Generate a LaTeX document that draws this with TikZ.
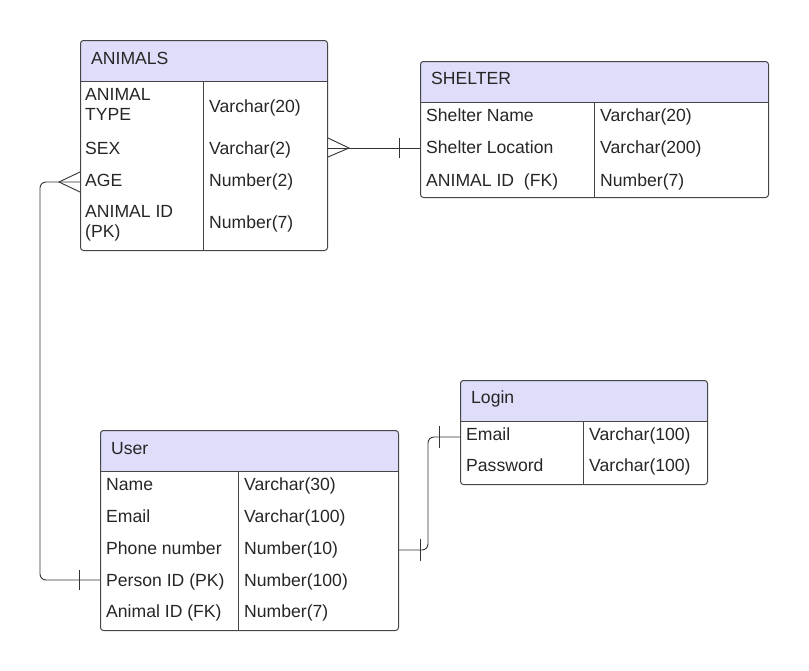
\documentclass[tikz,border=0pt]{standalone}
\usepackage{fontspec}
\setmainfont{Liberation Sans}
\definecolor{hdr}{RGB}{222,222,250}
\definecolor{edge}{RGB}{70,70,70}
\tikzset{
  x=1pt, y=-1pt,
  tbl/.style={draw=edge, line width=1pt, rounded corners=3pt, rectangle, inner sep=0pt, anchor=north west},
  cell/.style={anchor=base west, inner sep=0pt, font=\fontsize{17.6}{20}\selectfont, text=black!85, align=left},
  rel/.style={draw=black!80, line width=0.9pt},
}
\begin{document}
\begin{tikzpicture}
\useasboundingbox (0,0) rectangle (809,670);

% ---------- ANIMALS ----------
\fill[hdr] (80,81) [rounded corners=3pt] -- (80,40) -- (327,40) [sharp corners] -- (327,81) -- cycle;
\node[tbl, minimum width=247pt, minimum height=210pt] (animals) at (80,40) {};
\draw[edge, line width=1pt] (80,81) -- (327,81);
\draw[edge, line width=1pt] (203,81) -- (203,250);
\node[cell] (animalsT) at (91,64) {ANIMALS};
\node[cell] (aType) at (85,120) {ANIMAL\\TYPE};
\node[cell] (aTypeT) at (209,112) {Varchar(20)};
\node[cell] (aSex) at (85,154) {SEX};
\node[cell] (aSexT) at (209,154) {Varchar(2)};
\node[cell] (aAge) at (85,186) {AGE};
\node[cell] (aAgeT) at (209,186) {Number(2)};
\node[cell] (aId) at (85,237) {ANIMAL ID\\(PK)};
\node[cell] (aIdT) at (209,228) {Number(7)};

% ---------- SHELTER ----------
\fill[hdr] (420,102) [rounded corners=3pt] -- (420,61) -- (768,61) [sharp corners] -- (768,102) -- cycle;
\node[tbl, minimum width=348pt, minimum height=136pt] (shelter) at (420,61) {};
\draw[edge, line width=1pt] (420,102) -- (768,102);
\draw[edge, line width=1pt] (594,102) -- (594,197);
\node[cell] (shelterT) at (431,84) {SHELTER};
\node[cell] (sName) at (426,121) {Shelter Name};
\node[cell] (sNameT) at (600,121) {Varchar(20)};
\node[cell] (sLoc) at (426,153) {Shelter Location};
\node[cell] (sLocT) at (600,153) {Varchar(200)};
\node[cell] (sAid) at (426,186) {ANIMAL ID\ \ (FK)};
\node[cell] (sAidT) at (600,186) {Number(7)};

% ---------- Login ----------
\fill[hdr] (460,421) [rounded corners=3pt] -- (460,380) -- (707,380) [sharp corners] -- (707,421) -- cycle;
\node[tbl, minimum width=247pt, minimum height=104pt] (login) at (460,380) {};
\draw[edge, line width=1pt] (460,421) -- (707,421);
\draw[edge, line width=1pt] (583,421) -- (583,484);
\node[cell] (loginT) at (471,403) {Login};
\node[cell] (lEmail) at (466,440) {Email};
\node[cell] (lEmailT) at (589,440) {Varchar(100)};
\node[cell] (lPass) at (466,471) {Password};
\node[cell] (lPassT) at (589,471) {Varchar(100)};

% ---------- User ----------
\fill[hdr] (100,471) [rounded corners=3pt] -- (100,430) -- (398,430) [sharp corners] -- (398,471) -- cycle;
\node[tbl, minimum width=298pt, minimum height=200pt] (user) at (100,430) {};
\draw[edge, line width=1pt] (100,471) -- (398,471);
\draw[edge, line width=1pt] (238,471) -- (238,630);
\node[cell] (userT) at (111,454) {User};
\node[cell] (uName) at (106,490) {Name};
\node[cell] (uNameT) at (244,490) {Varchar(30)};
\node[cell] (uEmail) at (106,522) {Email};
\node[cell] (uEmailT) at (244,522) {Varchar(100)};
\node[cell] (uPhone) at (106,554) {Phone number};
\node[cell] (uPhoneT) at (244,554) {Number(10)};
\node[cell] (uPid) at (106,586) {Person ID (PK)};
\node[cell] (uPidT) at (244,586) {Number(100)};
\node[cell] (uAid) at (106,617) {Animal ID (FK)};
\node[cell] (uAidT) at (244,617) {Number(7)};

% ---------- connectors ----------
% ANIMALS (many) -- SHELTER (one)
\coordinate (c1a) at (animals.east |- 0,148);
\coordinate (c1b) at (shelter.west |- 0,148);
\draw[rel] (c1a) -- (c1b);
\draw[rel] ([yshift=-9pt]c1a) -- ([xshift=21pt]c1a) -- ([yshift=10pt]c1a);
\draw[rel] ([xshift=-21pt,yshift=-10pt]c1b) -- ([xshift=-21pt,yshift=10pt]c1b);

% ANIMALS AGE (many) -- User Person ID (one)
\coordinate (c2a) at (animals.west |- 0,182);
\coordinate (c2b) at (user.west |- 0,580);
\draw[rel, rounded corners=6pt] (c2a) -- (40,182) -- (40,580) -- (c2b);
\draw[rel] ([yshift=-10pt]c2a) -- ([xshift=-21pt]c2a) -- ([yshift=10pt]c2a);
\draw[rel] ([xshift=-21pt,yshift=-10pt]c2b) -- ([xshift=-21pt,yshift=10pt]c2b);

% User (one) -- Login Email (one)
\coordinate (c3a) at (user.east |- 0,550);
\coordinate (c3b) at (login.west |- 0,437);
\draw[rel, rounded corners=6pt] (c3a) -- (428,550) -- (428,437) -- (c3b);
\draw[rel] ([xshift=21pt,yshift=-11pt]c3a) -- ([xshift=21pt,yshift=11pt]c3a);
\draw[rel] ([xshift=-21pt,yshift=-11pt]c3b) -- ([xshift=-21pt,yshift=11pt]c3b);
\end{tikzpicture}
\end{document}
